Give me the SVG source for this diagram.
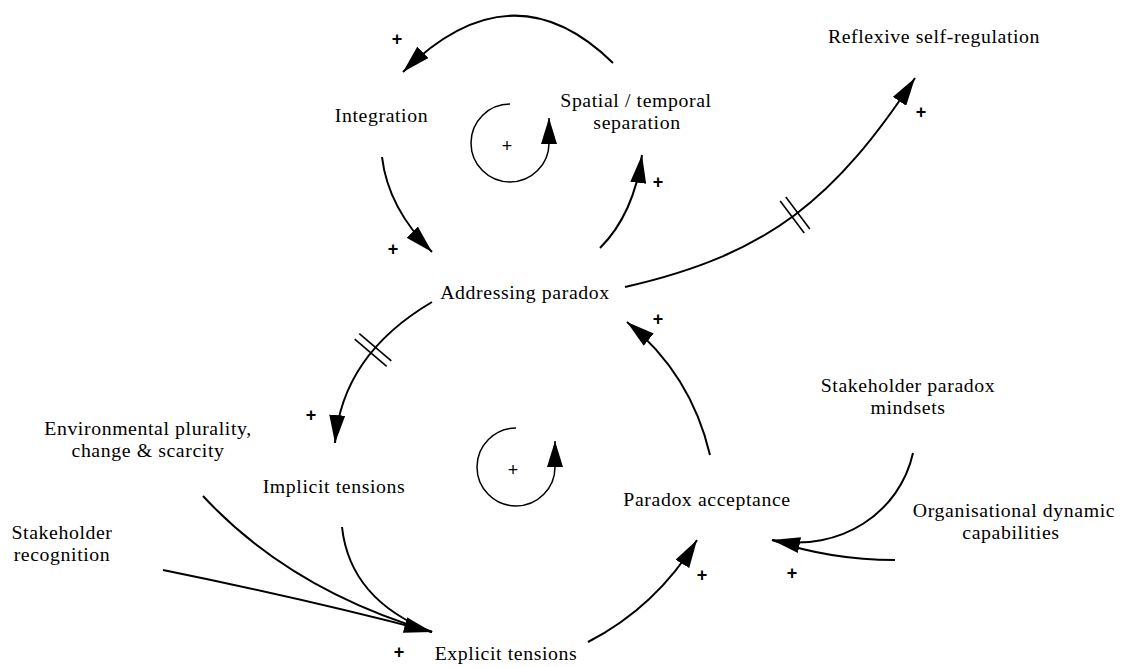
<svg xmlns="http://www.w3.org/2000/svg" width="1126" height="667" viewBox="0 0 1126 667">
  <defs>
    <marker id="head" viewBox="0 0 28 16" refX="28" refY="8" markerWidth="28" markerHeight="16" markerUnits="userSpaceOnUse" orient="auto">
      <path d="M0 0 L28 8 L0 16 Z" fill="#000"/>
    </marker>
    <marker id="loophead" viewBox="0 0 26 16" refX="26" refY="8" markerWidth="26" markerHeight="16" markerUnits="userSpaceOnUse" orient="auto">
      <path d="M0 0 L26 8 L0 16 Z" fill="#000"/>
    </marker>
  </defs>
  <style>
    .lbl { font-family: "Liberation Serif", "Times New Roman", serif; font-size: 19.8px; letter-spacing: 0.6px; fill: #000; text-anchor: middle; }
    .pol { font-family: "Liberation Sans", Arial, sans-serif; font-size: 18px; font-weight: bold; fill: #000; text-anchor: middle; }
    .polthin { font-family: "Liberation Sans", Arial, sans-serif; font-size: 18px; fill: #000; text-anchor: middle; }
    .link { fill: none; stroke: #000; stroke-width: 2; }
    .arrow { marker-end: url(#head); }
    .loop { fill: none; stroke: #000; stroke-width: 1.5; marker-end: url(#loophead); }
    .delay { stroke: #000; stroke-width: 1.6; }
  </style>

  <rect width="1126" height="667" fill="#fff"/>

  <!-- causal links -->
  <g id="connectors">
    <!-- Spatial / temporal separation -> Integration -->
    <path class="link arrow" d="M 613 63 Q 512 -36 403 72"/>
    <!-- Integration -> Addressing paradox -->
    <path class="link arrow" d="M 382 157 Q 388 208 432 252"/>
    <!-- Addressing paradox -> Spatial / temporal separation -->
    <path class="link arrow" d="M 600 248 Q 634 214 642 155"/>
    <!-- reinforcing loop marker (upper) -->
    <path class="loop" d="M 510 104 A 39 39 0 1 0 549 143 L 549 118"/>
    <!-- Addressing paradox -> Reflexive self-regulation (delayed) -->
    <path class="link arrow" d="M 625 287 C 771 254 836 197 915 78"/>
    <line class="delay" x1="780.2" y1="201.1" x2="804.2" y2="233.1"/>
    <line class="delay" x1="785.8" y1="196.9" x2="809.8" y2="228.9"/>
    <!-- Addressing paradox -> Implicit tensions (delayed) -->
    <path class="link arrow" d="M 432 302 Q 342 355 335 443"/>
    <line class="delay" x1="359.3" y1="333.7" x2="391.3" y2="360.9"/>
    <line class="delay" x1="354.7" y1="339.1" x2="386.7" y2="366.3"/>
    <!-- Paradox acceptance -> Addressing paradox -->
    <path class="link arrow" d="M 710 455 Q 691 374 627 322"/>
    <!-- reinforcing loop marker (lower) -->
    <path class="loop" d="M 516 428 A 39 39 0 1 0 555 467 L 555 441"/>
    <!-- inputs converging on Explicit tensions -->
    <path class="link" d="M 342 527 Q 350 600 432 632"/>
    <path class="link" d="M 203 496 Q 290 590 432 632"/>
    <path class="link arrow" d="M 163 570 Q 310 600 432 632"/>
    <!-- Explicit tensions -> Paradox acceptance -->
    <path class="link arrow" d="M 588 642 Q 656 607 697 540"/>
    <!-- inputs converging on Paradox acceptance -->
    <path class="link" d="M 895 560 Q 830 560 772 540"/>
    <path class="link arrow" d="M 913 453 C 900 512 841 553 772 540"/>
  </g>

  <!-- polarity signs -->
  <g id="polarities">
    <text class="pol" x="397" y="44.5">+</text>
    <text class="polthin" x="507" y="151.5">+</text>
    <text class="pol" x="658" y="188">+</text>
    <text class="pol" x="393" y="254.5">+</text>
    <text class="pol" x="921" y="118">+</text>
    <text class="pol" x="658" y="324.5">+</text>
    <text class="pol" x="311" y="421">+</text>
    <text class="polthin" x="513" y="475.5">+</text>
    <text class="pol" x="702" y="580.5">+</text>
    <text class="pol" x="792" y="578.5">+</text>
    <text class="pol" x="399" y="658">+</text>
  </g>

  <!-- variables -->
  <g id="reflexive-self-regulation">
    <text class="lbl" x="934" y="43">Reflexive self-regulation</text>
  </g>
  <g id="integration">
    <text class="lbl" x="381.5" y="122">Integration</text>
  </g>
  <g id="spatial-temporal-separation">
    <text class="lbl" x="636" y="106.5">Spatial / temporal</text>
    <text class="lbl" x="637" y="128.5">separation</text>
  </g>
  <g id="addressing-paradox">
    <text class="lbl" x="525" y="299">Addressing paradox</text>
  </g>
  <g id="stakeholder-paradox-mindsets">
    <text class="lbl" x="908" y="391.5">Stakeholder paradox</text>
    <text class="lbl" x="908" y="413.5">mindsets</text>
  </g>
  <g id="environmental-plurality">
    <text class="lbl" x="148" y="434.5">Environmental plurality,</text>
    <text class="lbl" x="148" y="456.5">change &amp; scarcity</text>
  </g>
  <g id="implicit-tensions">
    <text class="lbl" x="334" y="493">Implicit tensions</text>
  </g>
  <g id="paradox-acceptance">
    <text class="lbl" x="707" y="506">Paradox acceptance</text>
  </g>
  <g id="organisational-dynamic-capabilities">
    <text class="lbl" x="1014" y="516.5">Organisational dynamic</text>
    <text class="lbl" x="1011" y="538.5">capabilities</text>
  </g>
  <g id="stakeholder-recognition">
    <text class="lbl" x="62" y="538.5">Stakeholder</text>
    <text class="lbl" x="62" y="560.5">recognition</text>
  </g>
  <g id="explicit-tensions">
    <text class="lbl" x="506" y="660">Explicit tensions</text>
  </g>
</svg>
